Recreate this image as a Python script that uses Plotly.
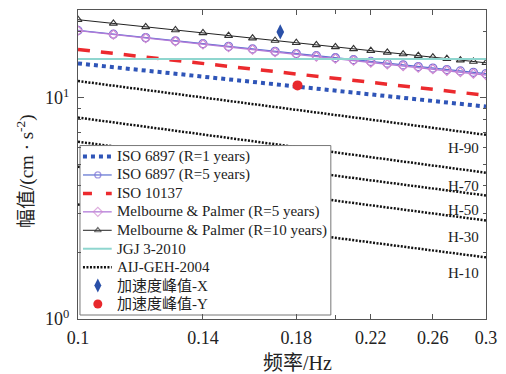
import math
import plotly.graph_objects as go

# Frequency grid for the marked curves (Hz)
freq = [0.10, 0.11, 0.12, 0.13, 0.14, 0.15, 0.16, 0.17, 0.18, 0.19, 0.20,
        0.21, 0.22, 0.23, 0.24, 0.25, 0.26, 0.27, 0.28, 0.29, 0.30]

# Straight (log-log) limit curves, given by their end points
f_ends = [0.1, 0.3]
iso6897_r1 = [14.33, 9.14]
iso10137 = [16.58, 10.28]
jgj3_2010 = [15.0, 15.0]

# Curves with markers (cm/s^2)
iso6897_r5 = [20.20, 19.43, 18.75, 18.14, 17.60, 17.11, 16.66, 16.25, 15.88, 15.53, 15.20,
              14.90, 14.62, 14.36, 14.11, 13.87, 13.65, 13.44, 13.25, 13.06, 12.88]
mp_r5 = [20.15, 19.36, 18.66, 18.05, 17.49, 16.99, 16.54, 16.12, 15.74, 15.39, 15.06,
         14.76, 14.47, 14.20, 13.95, 13.71, 13.49, 13.28, 13.08, 12.88, 12.70]
mp_r10 = [22.60, 21.74, 20.97, 20.30, 19.69, 19.15, 18.65, 18.19, 17.77, 17.38, 17.02,
          16.68, 16.37, 16.07, 15.80, 15.54, 15.29, 15.06, 14.83, 14.62, 14.42]

# AIJ-GEH-2004 perception curves: value at 0.1 Hz and at 0.3 Hz
aij_names = ["H-90", "H-70", "H-50", "H-30", "H-10"]
aij_left = [11.93, 8.15, 6.34, 4.89, 3.30]
aij_right = [6.81, 4.59, 3.62, 2.79, 1.90]
aij_label_y = [5.95, 4.01, 3.10, 2.34, 1.61]

# Measured peak accelerations
peak_x = (0.1724, 19.9)
peak_y = (0.1806, 11.4)

x_ticks = [0.1, 0.14, 0.18, 0.22, 0.26, 0.3]
x_tick_text = ["0.1", "0.14", "0.18", "0.22", "0.26", "0.3"]

legend_names = ["ISO 6897 (R=1 years)", "ISO 6897 (R=5 years)", "ISO 10137",
                "Melbourne & Palmer (R=5 years)", "Melbourne & Palmer (R=10 years)",
                "JGJ 3-2010", "AIJ-GEH-2004", "加速度峰值-X", "加速度峰值-Y"]

SERIF = "Liberation Serif, Noto Sans CJK SC"
TXT = "#222222"

# Styles shared by the curves and their legend keys
styles = [
    dict(mode="lines", line=dict(color="#2f55b8", width=4, dash="dot")),
    dict(mode="lines+markers", line=dict(color="#5a6fd0", width=1.2),
         marker=dict(symbol="circle-open", size=8, color="#7c6fd6", line=dict(width=1.3))),
    dict(mode="lines", line=dict(color="#ec2a2e", width=3.5, dash="12px,11px")),
    dict(mode="lines+markers", line=dict(color="#b27ad8", width=1.3),
         marker=dict(symbol="diamond-open", size=7, color="#d08ad0", line=dict(width=1.2))),
    dict(mode="lines+markers", line=dict(color="#222222", width=1),
         marker=dict(symbol="triangle-up-open", size=7, color="#333333", line=dict(width=1.1))),
    dict(mode="lines", line=dict(color="#8fd6cf", width=2)),
    dict(mode="lines", line=dict(color="#111111", width=2.5, dash="2px,1.5px")),
    dict(mode="markers", marker=dict(symbol="diamond-tall", size=11, color="#2a50a8")),
    dict(mode="markers", marker=dict(symbol="circle", size=10, color="#e8282c")),
]

fig = go.Figure()

fig.add_trace(go.Scatter(x=f_ends, y=iso6897_r1, name=legend_names[0], **styles[0]))
fig.add_trace(go.Scatter(x=freq, y=iso6897_r5, name=legend_names[1], **styles[1]))
fig.add_trace(go.Scatter(x=f_ends, y=iso10137, name=legend_names[2], **styles[2]))
fig.add_trace(go.Scatter(x=freq, y=mp_r5, name=legend_names[3], **styles[3]))
fig.add_trace(go.Scatter(x=freq, y=mp_r10, name=legend_names[4], **styles[4]))
fig.add_trace(go.Scatter(x=f_ends, y=jgj3_2010, name=legend_names[5], **styles[5]))

aij_x, aij_y = [], []
for left, right in zip(aij_left, aij_right):
    aij_x += [f_ends[0], f_ends[1], None]
    aij_y += [left, right, None]
fig.add_trace(go.Scatter(x=aij_x, y=aij_y, name=legend_names[6], **styles[6]))

fig.add_trace(go.Scatter(x=[peak_x[0]], y=[peak_x[1]], name=legend_names[7], **styles[7]))
fig.add_trace(go.Scatter(x=[peak_y[0]], y=[peak_y[1]], name=legend_names[8], **styles[8]))

# Legend panel on an overlay axis measured in pixels of the plot area
L_X0, L_X1, L_Y0, L_Y1 = 80, 333, 145, 315
ROW0, ROW_STEP = 156, 18.5
fig.add_trace(go.Scatter(x=[L_X0, L_X1, L_X1, L_X0, L_X0], y=[L_Y0, L_Y0, L_Y1, L_Y1, L_Y0],
                         mode="lines", fill="toself", fillcolor="white",
                         line=dict(color="#777777", width=1), hoverinfo="skip",
                         xaxis="x2", yaxis="y2"))
key_sizes = [None, 6, None, 7, 6, None, None, 10, 9]
for i, (name, st) in enumerate(zip(legend_names, styles)):
    yy = ROW0 + i * ROW_STEP
    key = {k: v for k, v in st.items()}
    if st["mode"] == "markers":
        kx, ky = [98], [yy]
        key["marker"] = dict(st["marker"], size=key_sizes[i])
    elif st["mode"] == "lines+markers":
        kx, ky = [83, 98, 112], [yy, yy, yy]
        # a single marker in the middle of the key line
        key["marker"] = dict(st["marker"], size=[0, key_sizes[i], 0])
    else:
        kx, ky = [83, 112], [yy, yy]
        if i == 2:
            key["line"] = dict(st["line"], dash="9px,14px")
    fig.add_trace(go.Scatter(x=kx, y=ky, xaxis="x2", yaxis="y2", hoverinfo="skip", **key))
    fig.add_annotation(x=115, y=yy, xref="x2", yref="y2", text=name, showarrow=False,
                       xanchor="left", yanchor="middle",
                       font=dict(family=SERIF, size=15, color=TXT))

for name, yv in zip(aij_names, aij_label_y):
    fig.add_annotation(x=0.988, xref="paper", y=math.log10(yv), yref="y",
                       text=name, showarrow=False, xanchor="right", yanchor="middle",
                       font=dict(family=SERIF, size=15, color=TXT))

fig.add_annotation(x=(299 - 78) / 411.5, xref="paper", y=(319 - 363) / 310, yref="paper",
                   text="频率/Hz", showarrow=False, xanchor="center", yanchor="middle",
                   font=dict(family=SERIF, size=20, color=TXT))
fig.add_annotation(x=(25 - 78) / 411.5, xref="paper", y=(319 - 171) / 310, yref="paper",
                   text="幅值/(cm · s<sup>-2</sup>)", showarrow=False, textangle=-90,
                   xanchor="center", yanchor="middle",
                   font=dict(family=SERIF, size=19, color=TXT))

axis_common = dict(showline=True, linecolor="#555", linewidth=1, mirror="allticks",
                   ticks="inside", tickcolor="#555", showgrid=False, zeroline=False,
                   tickfont=dict(family=SERIF, size=18, color=TXT))

fig.update_xaxes(type="log", range=[math.log10(0.1), math.log10(0.3)],
                 tickmode="array", tickvals=x_ticks, ticktext=x_tick_text, ticklen=5,
                 ticklabelstandoff=2,
                 minor=dict(tickmode="array", tickvals=[0.2], ticks="inside", ticklen=4,
                            tickcolor="#555"),
                 **axis_common)
fig.update_yaxes(type="log", range=[0, math.log10(25)],
                 tickmode="array", tickvals=[1, 10],
                 ticktext=["10<sup>0</sup>", "10<sup>1</sup>"], ticklen=6,
                 ticklabelstandoff=4,
                 minor=dict(tickmode="array", tickvals=[2, 3, 4, 5, 6, 7, 8, 9, 20],
                            ticks="inside", ticklen=3, tickcolor="#555"),
                 **axis_common)

fig.update_layout(
    width=506, height=374,
    margin=dict(l=78, r=16.5, t=9, b=55),
    paper_bgcolor="white", plot_bgcolor="white",
    showlegend=False,
    xaxis2=dict(overlaying="x", anchor="y2", range=[78, 489.5], visible=False),
    yaxis2=dict(overlaying="y", anchor="x2", range=[319, 9], visible=False),
)

fig.write_html("out.html")
